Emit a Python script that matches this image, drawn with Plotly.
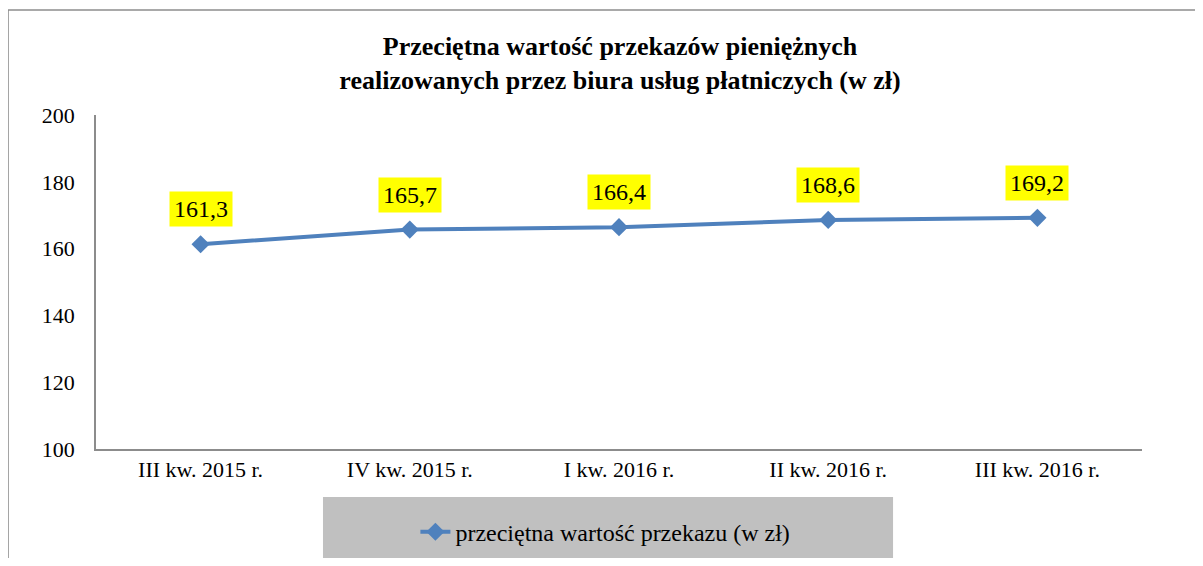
import plotly.graph_objects as go

kwartaly = ["III kw. 2015 r.", "IV kw. 2015 r.", "I kw. 2016 r.", "II kw. 2016 r.", "III kw. 2016 r."]
wartosci = [161.3, 165.7, 166.4, 168.6, 169.2]
etykiety = ["161,3", "165,7", "166,4", "168,6", "169,2"]
y_ticks = [100, 120, 140, 160, 180, 200]

FONT = "Liberation Serif"
NIEBIESKI = "#4F81BD"

fig = go.Figure()

fig.add_trace(go.Scatter(
    x=kwartaly,
    y=wartosci,
    mode="lines+markers",
    name="przeciętna wartość przekazu (w zł)",
    line=dict(color=NIEBIESKI, width=4),
    marker=dict(symbol="diamond", size=14, color=NIEBIESKI),
))

# etykiety danych na zoltym tle
for x, y, t in zip(kwartaly, wartosci, etykiety):
    fig.add_annotation(
        x=x, y=y, text=t, showarrow=False,
        yshift=35,
        bgcolor="#FFFF00",
        borderpad=4,
        font=dict(family=FONT, size=24, color="black"),
    )

# szare tlo legendy
fig.add_shape(type="rect", xref="paper", yref="paper",
              x0=0.217, x1=0.762, y0=-0.144, y1=-0.40,
              fillcolor="#C0C0C0", line=dict(width=0), layer="below")

# ramka wykresu (lewa i gorna krawedz)
fig.add_shape(type="line", xref="paper", yref="paper",
              x0=-0.0841, x1=-0.0841, y0=1.314, y1=-0.45,
              line=dict(color="#8C8C8C", width=1.5))
fig.add_shape(type="line", xref="paper", yref="paper",
              x0=-0.0841, x1=1.1, y0=1.314, y1=1.314,
              line=dict(color="#8C8C8C", width=1.5))

fig.update_layout(
    width=1187,
    height=550,
    margin=dict(l=88, r=53, t=107, b=109),
    paper_bgcolor="white",
    plot_bgcolor="white",
    font=dict(family=FONT, color="black"),
    title=dict(
        text="<b>Przeciętna wartość przekazów pieniężnych<br>realizowanych przez biura usług płatniczych (w zł)</b>",
        x=0.501, xref="paper", xanchor="center",
        y=0.915, yref="container", yanchor="middle",
        font=dict(family=FONT, size=26, color="black"),
    ),
    showlegend=True,
    legend=dict(
        orientation="h",
        x=0.487, xanchor="center",
        y=0.047, yref="container", yanchor="middle",
        bgcolor="rgba(0,0,0,0)",
        font=dict(family=FONT, size=24, color="black"),
    ),
)

fig.update_xaxes(
    type="category",
    range=[-0.5, 4.5],
    showline=True, linecolor="#8C8C8C", linewidth=1.5,
    showgrid=False, ticks="",
    tickfont=dict(family=FONT, size=22, color="black"),
    ticklabelstandoff=0,
)
fig.update_yaxes(
    range=[100, 200],
    tickvals=y_ticks,
    showline=True, linecolor="#8C8C8C", linewidth=1.5,
    showgrid=False, ticks="", zeroline=False,
    tickfont=dict(family=FONT, size=22, color="black"),
    ticklabelstandoff=15,
)

fig.write_html("out.html")
